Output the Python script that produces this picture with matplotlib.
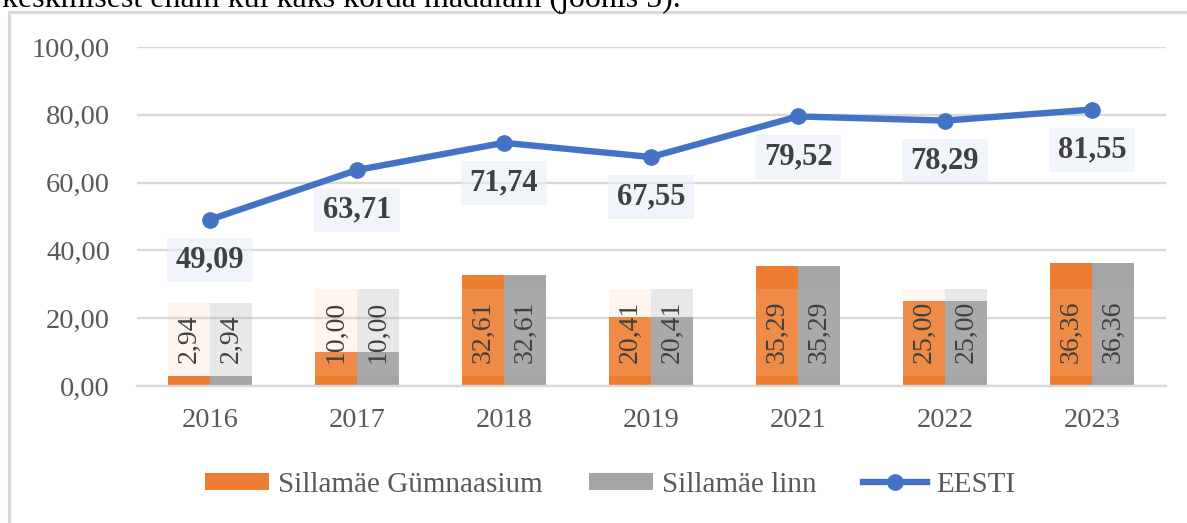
import matplotlib
matplotlib.use("Agg")
import matplotlib.pyplot as plt
import numpy as np
from matplotlib.patches import Rectangle
from matplotlib.transforms import IdentityTransform
from matplotlib.ticker import FuncFormatter
from matplotlib.lines import Line2D
from matplotlib.patches import Patch

# ---- data ----
years = ["2016", "2017", "2018", "2019", "2021", "2022", "2023"]
gymnaasium = [2.94, 10.00, 32.61, 20.41, 35.29, 25.00, 36.36]
linn = [2.94, 10.00, 32.61, 20.41, 35.29, 25.00, 36.36]
eesti = [49.09, 63.71, 71.74, 67.55, 79.52, 78.29, 81.55]
series_names = ["Sillamäe Gümnaasium", "Sillamäe linn", "EESTI"]
yticks = [0, 20, 40, 60, 80, 100]
top_text = "keskmisest enam kui kaks korda madalam (joonis 5)."

ORANGE = "#ED7D31"
GRAY = "#A5A5A5"
BLUE = "#4472C4"
GRID = "#D9D9D9"
TICK = "#595959"
LABEL = "#404040"
SERIF = ["Liberation Serif", "DejaVu Serif"]

plt.rcParams["font.family"] = SERIF

W, H = 1187, 523
fig = plt.figure(figsize=(W / 100, H / 100), dpi=100)
fig.patch.set_facecolor("white")

ax = fig.add_axes([136.5 / W, 1 - 386 / H, (1165.5 - 136.5) / W, (386 - 47) / H])
ax.set_facecolor("none")

def fmt(v):
    return f"{v:.2f}".replace(".", ",")

x = np.arange(len(years))
bw = 0.286
b1 = ax.bar(x - bw / 2, gymnaasium, bw, color=ORANGE, zorder=2)
b2 = ax.bar(x + bw / 2, linn, bw, color=GRAY, zorder=2)
ax.plot(x, eesti, color=BLUE, lw=4.6, marker="o", markersize=11, zorder=4,
        solid_capstyle="round")

ax.set_xlim(-0.5, len(years) - 0.5)
ax.set_ylim(0, 100)
ax.set_yticks(yticks)
ax.yaxis.set_major_formatter(FuncFormatter(lambda v, p: fmt(v)))
ax.set_xticks(x)
ax.set_xticklabels(years)
ax.grid(axis="y", color=GRID, lw=1.7, zorder=0)
ax.set_axisbelow(True)
for s in ["top", "right", "left"]:
    ax.spines[s].set_visible(False)
ax.spines["bottom"].set_color(GRID)
ax.spines["bottom"].set_linewidth(1.7)
ax.tick_params(axis="both", length=0, labelsize=20.5, colors=TICK)
ax.tick_params(axis="x", pad=16)
ax.tick_params(axis="y", pad=19)

# bar value labels (rotated)
bar_texts = []
for bars, vals in ((b1, gymnaasium), (b2, linn)):
    for rect, v in zip(bars, vals):
        cx = rect.get_x() + rect.get_width() / 2
        t = ax.annotate(fmt(v), xy=(cx, 0), xytext=(0, 16.5), textcoords="offset points",
                        rotation=90, ha="center", va="bottom", fontsize=20,
                        color=LABEL, zorder=6)
        bar_texts.append((t, rect, bars is b1))

# line value labels
line_texts = []
for i, v in enumerate(eesti):
    t = ax.annotate(fmt(v), xy=(i, v), xytext=(0, -29), textcoords="offset points",
                    ha="center", va="center", fontsize=22, fontweight="bold",
                    color=LABEL, zorder=7)
    line_texts.append(t)

# legend
fs_leg = 21
handles = [Patch(facecolor=ORANGE, edgecolor="none"),
           Patch(facecolor=GRAY, edgecolor="none"),
           Line2D([0], [0], color=BLUE, lw=4.6, marker="o", markersize=11)]
fig.legend(handles, series_names, loc="center", bbox_to_anchor=(610 / W, 1 - 485 / H),
           ncol=3, frameon=False, fontsize=fs_leg, handlelength=2.2, handleheight=0.55,
           handletextpad=0.31, columnspacing=1.58, borderpad=0, labelcolor=TICK)

# chart frame and text above
fig.add_artist(Rectangle((9 / W, -0.5), 2, 1 - 12 / H + 0.5, transform=fig.transFigure,
                         fill=False, ec=GRID, lw=2.2, clip_on=False))
fig.text(2 / W, 1 - 7 / H, top_text, ha="left", va="baseline", fontsize=23, color="black")

# boxes behind labels (computed from rendered text extents)
fig.canvas.draw()
r = fig.canvas.get_renderer()
ax_y0 = ax.transData.transform((0, 0))[1]
for t, rect, is_orange in bar_texts:
    bb = t.get_window_extent(r)
    xl = ax.transData.transform((rect.get_x(), 0))[0]
    xr = ax.transData.transform((rect.get_x() + rect.get_width(), 0))[0]
    y0 = ax_y0 + 10
    y1 = bb.y1 + 12
    if is_orange:
        fc, a = "#F5CAA6", 0.19
    else:
        fc, a = "#B5B5B5", 0.31
    ax.add_artist(Rectangle((xl, y0), xr - xl, y1 - y0, transform=IdentityTransform(),
                            facecolor=fc, alpha=a, edgecolor="none", zorder=5))
for t in line_texts:
    bb = t.get_window_extent(r)
    cx = (bb.x0 + bb.x1) / 2
    cy = (bb.y0 + bb.y1) / 2
    w = bb.width + 18
    h = 44
    ax.add_artist(Rectangle((cx - w / 2, cy - h / 2), w, h, transform=IdentityTransform(),
                            facecolor="#E6EDF8", alpha=0.55, edgecolor="none", zorder=5))

fig.savefig("out.png", dpi=100)
